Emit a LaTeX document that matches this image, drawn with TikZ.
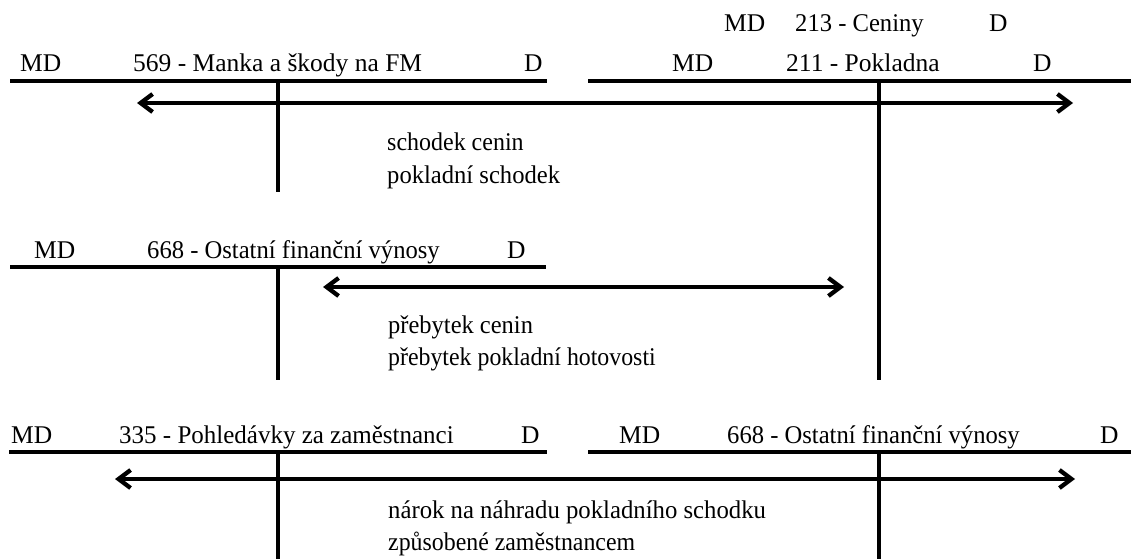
\documentclass[tikz,border=0pt]{standalone}
\usepackage{fontspec}
\usepackage{graphicx}
\setmainfont{Liberation Serif}
\usetikzlibrary{arrows.meta}
\newcommand{\narrowtxt}[2]{\scalebox{#1}[1]{#2}}
\begin{document}
\begin{tikzpicture}[x=1pt,y=-1pt,
  lbl/.style={anchor=base west,inner sep=0pt,font=\fontsize{25.5}{28}\selectfont},
  tline/.style={line width=4.3pt},
  stem/.style={line width=4pt},
  flow/.style={line width=4.3pt,{Straight Barb[length=12pt,width=18pt,line width=4.3pt]}-{Straight Barb[length=12pt,width=18pt,line width=4.3pt]}}]
\useasboundingbox[fill=white] (0,0) rectangle (1131,559);
% ---- top section ----
\node[lbl] (md569) at (20,72) {MD};
\node[lbl] (t569) at (133,72) {569 - Manka a škody na FM};
\node[lbl] (d569) at (524,72) {D};
\node[lbl] (md213) at (724,32) {MD};
\node[lbl] (t213) at (795,32) {\narrowtxt{0.965}{213 - Ceniny}};
\node[lbl] (d213) at (989,32) {D};
\node[lbl] (md211) at (672,72) {MD};
\node[lbl] (t211) at (786,72) {211 - Pokladna};
\node[lbl] (d211) at (1033,72) {D};
\coordinate (l569a) at (10,81);
\coordinate (l569b) at (547,81);
\coordinate (l211a) at (588,81);
\coordinate (l211b) at (1131,81);
\coordinate (s569t) at (278,81);
\coordinate (s569b) at (278,192);
\coordinate (s211t) at (879,81);
\coordinate (s211b) at (879,380);
\draw[tline] (l569a) -- (l569b);
\draw[tline] (l211a) -- (l211b);
\draw[stem] (s569t) -- (s569b);
\draw[stem] (s211t) -- (s211b);
\coordinate (a1l) at (137,103);
\coordinate (a1r) at (1073,103);
\draw[flow] (a1l) -- (a1r);
\node[lbl] (txt1a) at (387,150) {\narrowtxt{0.94}{schodek cenin}};
\node[lbl] (txt1b) at (387,183) {\narrowtxt{0.965}{pokladní schodek}};
% ---- middle section ----
\node[lbl] (md668) at (34,258) {MD};
\node[lbl] (t668) at (147,258) {\narrowtxt{0.965}{668 - Ostatní finanční výnosy}};
\node[lbl] (d668) at (507,258) {D};
\coordinate (l668a) at (10,267);
\coordinate (l668b) at (546,267);
\coordinate (s668t) at (278,267);
\coordinate (s668b) at (278,380);
\draw[tline] (l668a) -- (l668b);
\draw[stem] (s668t) -- (s668b);
\coordinate (a2l) at (323,287);
\coordinate (a2r) at (844,287);
\draw[flow] (a2l) -- (a2r);
\node[lbl] (txt2a) at (388,333) {\narrowtxt{0.96}{přebytek cenin}};
\node[lbl] (txt2b) at (388,365) {\narrowtxt{0.935}{přebytek pokladní hotovosti}};
% ---- bottom section ----
\node[lbl] (md335) at (11,443) {MD};
\node[lbl] (t335) at (119,443) {\narrowtxt{0.98}{335 - Pohledávky za zaměstnanci}};
\node[lbl] (d335) at (521,443) {D};
\node[lbl] (md668b) at (619,443) {MD};
\node[lbl] (t668b) at (727,443) {\narrowtxt{0.965}{668 - Ostatní finanční výnosy}};
\node[lbl] (d668b) at (1100,443) {D};
\coordinate (l335a) at (9,452);
\coordinate (l335b) at (547,452);
\coordinate (l668ba) at (588,452);
\coordinate (l668bb) at (1131,452);
\coordinate (s335t) at (278,452);
\coordinate (s335b) at (278,559);
\coordinate (s668bt) at (879,452);
\coordinate (s668bb) at (879,559);
\draw[tline] (l335a) -- (l335b);
\draw[tline] (l668ba) -- (l668bb);
\draw[stem] (s335t) -- (s335b);
\draw[stem] (s668bt) -- (s668bb);
\coordinate (a3l) at (115,479);
\coordinate (a3r) at (1075,479);
\draw[flow] (a3l) -- (a3r);
\node[lbl] (txt3a) at (388,518) {\narrowtxt{0.97}{nárok na náhradu pokladního schodku}};
\node[lbl] (txt3b) at (388,550) {\narrowtxt{0.935}{způsobené zaměstnancem}};
\end{tikzpicture}
\end{document}
